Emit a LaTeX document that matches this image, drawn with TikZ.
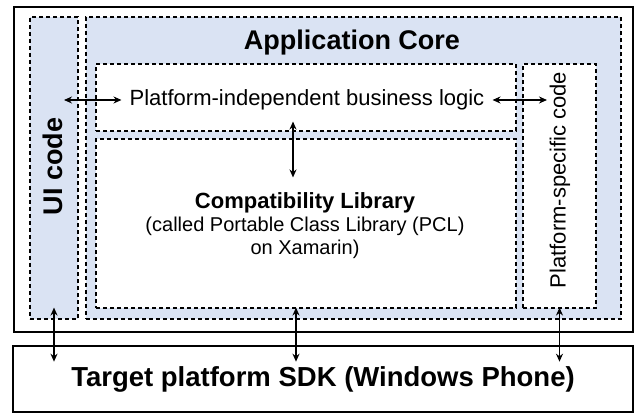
\documentclass[tikz,border=0pt]{standalone}
\usepackage{fontspec}
\setmainfont{Liberation Sans}
\usetikzlibrary{arrows.meta,positioning,calc}
\definecolor{coreblue}{HTML}{DAE3F3}

\begin{document}
\begin{tikzpicture}[x=1pt,y=1pt,
    dashbox/.style={draw,dash pattern=on 4pt off 3pt,line width=1.1pt,inner sep=0pt},
    framebox/.style={draw,line width=2.6pt,inner sep=0pt},
    link/.style={{Stealth[length=8pt,width=7pt]}-{Stealth[length=8pt,width=7pt]},line width=1.2pt}]
  \useasboundingbox (0,0) rectangle (638,414);
  % outer frames
  \node[framebox,minimum width=619pt,minimum height=325pt] (host) at (323.5,244.5) {};
  \node[framebox,minimum width=620pt,minimum height=66pt,font=\fontsize{27.5}{32}\selectfont\bfseries] (sdk) at (323,35) {Target platform SDK (Windows Phone)};
  % code layers
  \node[dashbox,fill=coreblue,minimum width=48pt,minimum height=302pt] (ui) at (54,246) {};
  \node[dashbox,fill=coreblue,minimum width=535pt,minimum height=302pt] (core) at (353.5,246) {};
  \node[dashbox,fill=white,minimum width=420pt,minimum height=67pt] (logic) at (306,316.5) {};
  \node[dashbox,fill=white,minimum width=420pt,minimum height=169pt] (compat) at (306,190.5) {};
  \node[dashbox,fill=white,minimum width=73pt,minimum height=244pt] (pspec) at (559.5,228) {};
  % labels
  \node[font=\fontsize{27}{32}\selectfont\bfseries] (coretitle) at (352,371) {Application Core};
  \node[font=\fontsize{22}{26}\selectfont,inner sep=8pt] (logictext) at (307,314) {Platform-independent business logic};
  \node[align=center,font=\fontsize{20}{23}\selectfont] (compattext) at (305,188.5)
    {{\fontsize{22}{25}\selectfont\bfseries Compatibility Library}\\(called Portable Class Library (PCL)\\on Xamarin)};
  \node[rotate=90,font=\fontsize{27}{32}\selectfont\bfseries] (uitext) at (53,247.5) {UI code};
  \node[rotate=90,font=\fontsize{22}{26}\selectfont] (pspectext) at (560,234) {Platform-specific code};
  % arrows
  \draw[link] ($(ui.center |- logictext.center)+(10,0)$) -- (logictext.west);
  \draw[link] (logictext.east) -- ($(pspec.center |- logictext.center)+(-12.5,0)$);
  \draw[link] ([xshift=-13pt,yshift=10pt]logic.south) -- ([xshift=-13pt,yshift=-39pt]compat.north);
  \foreach \n/\dx in {ui/0,compat/-10,pspec/0}
    \draw[link] ($(\n.south |- compat.south)+(\dx,1)$) -- ($(\n.south |- sdk.north)+(\dx,-17)$);
\end{tikzpicture}
\end{document}
